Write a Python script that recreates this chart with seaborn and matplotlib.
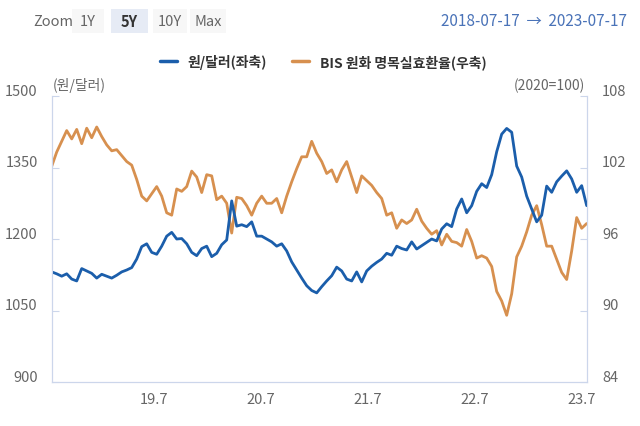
import pandas as pd
import numpy as np
import seaborn as sns
import matplotlib.pyplot as plt
from matplotlib.patches import Rectangle
from matplotlib.lines import Line2D
from matplotlib.transforms import ScaledTranslation

# 원/달러 (left axis), roughly every 17 days from 2018-07-17 to 2023-07-17
krw_usd = [1131, 1127, 1122, 1127, 1116, 1112, 1138, 1133, 1128, 1118,
           1126, 1122, 1118, 1124, 1131, 1135, 1140, 1158, 1184, 1190,
           1172, 1168, 1185, 1206, 1214, 1200, 1201, 1190, 1172, 1165,
           1180, 1185, 1163, 1170, 1188, 1198, 1280, 1227, 1230, 1226,
           1236, 1206, 1206, 1200, 1194, 1185, 1190, 1175, 1152, 1135,
           1118, 1102, 1092, 1087, 1100, 1112, 1123, 1141, 1133, 1116,
           1112, 1131, 1110, 1133, 1143, 1151, 1158, 1170, 1166, 1185,
           1180, 1177, 1194, 1179, 1186, 1193, 1200, 1196, 1221, 1232,
           1226, 1263, 1284, 1255, 1270, 1300, 1316, 1308, 1335, 1383,
           1420, 1432, 1424, 1353, 1330, 1290, 1263, 1236, 1250, 1311,
           1298, 1320, 1332, 1343, 1326, 1298, 1312, 1270]

# BIS 원화 명목실효환율 (right axis, 2020=100)
bis_neer = [102.1, 103.3, 104.2, 105.1, 104.4, 105.2, 104.0, 105.3, 104.5, 105.4,
            104.6, 103.9, 103.4, 103.5, 103.0, 102.5, 102.2, 101.0, 99.6, 99.2,
            99.8, 100.4, 99.6, 98.2, 98.0, 100.2, 100.0, 100.4, 101.7, 101.2,
            99.9, 101.4, 101.3, 99.3, 99.6, 99.0, 96.5, 99.5, 99.4, 98.8,
            98.0, 99.0, 99.6, 99.0, 99.0, 99.4, 98.2, 99.6, 100.8, 101.9,
            102.9, 102.9, 104.2, 103.2, 102.5, 101.5, 101.8, 100.8, 101.8, 102.5,
            101.2, 99.9, 101.3, 100.9, 100.5, 99.9, 99.4, 98.0, 98.2, 96.9,
            97.6, 97.3, 97.6, 98.5, 97.5, 96.9, 96.4, 96.7, 95.5, 96.4,
            95.8, 95.7, 95.4, 96.8, 95.8, 94.4, 94.6, 94.4, 93.7, 91.6,
            90.8, 89.6, 91.4, 94.5, 95.4, 96.6, 98.0, 98.8, 97.2, 95.4,
            95.4, 94.3, 93.2, 92.6, 95.0, 97.8, 96.9, 97.3]

dates = pd.date_range('2018-07-17', '2023-07-17', periods=len(krw_usd))
df = pd.DataFrame({'date': dates, 'krw': krw_usd, 'neer': bis_neer})

left_ticks = [900, 1050, 1200, 1350, 1500]
right_ticks = [84, 90, 96, 102, 108]
x_ticks = pd.to_datetime(['2019-07-01', '2020-07-01', '2021-07-01', '2022-07-01', '2023-07-01'])
x_labels = ['19.7', '20.7', '21.7', '22.7', '23.7']

sns.set_style('white')
plt.rcParams['font.family'] = ['Noto Sans CJK KR', 'DejaVu Sans']

blue = '#1b5eab'
orange = '#d7904f'
axis_c = '#ccd6eb'
txt_c = '#666666'

fig = plt.figure(figsize=(6.4, 4.27), dpi=100)
ax = fig.add_axes([0.0808, 0.103, 0.8359, 0.6698])
ax2 = ax.twinx()

sns.lineplot(data=df, x='date', y='krw', ax=ax, color=blue, linewidth=2)
sns.lineplot(data=df, x='date', y='neer', ax=ax2, color=orange, linewidth=2)
ax.set_zorder(ax2.get_zorder() + 1)
ax.patch.set_visible(False)

ax.set_xlim(pd.Timestamp('2018-07-17'), pd.Timestamp('2023-07-17'))
ax.set_ylim(900, 1500)
ax2.set_ylim(84, 108)
ax.set_yticks(left_ticks)
ax2.set_yticks(right_ticks)
ax.set_xticks(x_ticks)
ax.set_xticklabels(x_labels)
for a in (ax, ax2):
    a.set_xlabel('')
    a.set_ylabel('')
    for s in a.spines.values():
        s.set_color(axis_c)
    a.spines['top'].set_visible(False)
    a.tick_params(direction='in', length=5, color=axis_c, labelcolor=txt_c, labelsize=10.5)
ax.tick_params(axis='y', pad=10)
ax2.tick_params(axis='y', pad=11)
ax.tick_params(axis='x', pad=7)

off = ScaledTranslation(0, 5 / 72, fig.dpi_scale_trans)
for lab in ax.get_yticklabels() + ax2.get_yticklabels():
    lab.set_transform(lab.get_transform() + off)

fig.text(0.083, 0.782, '(원/달러)', color=txt_c, fontsize=10, ha='left', va='bottom')
fig.text(0.914, 0.782, '(2020=100)', color=txt_c, fontsize=10, ha='right', va='bottom')

# legend
handles = [Line2D([], [], color=blue, linewidth=2.5), Line2D([], [], color=orange, linewidth=2.5)]
leg = fig.legend(handles, ['원/달러(좌축)', 'BIS 원화 명목실효환율(우축)'], loc='center',
                 bbox_to_anchor=(0.505, 0.853), ncol=2, frameon=False, handlelength=1.2,
                 columnspacing=1.8, prop={'weight': 'bold', 'size': 10})
for t in leg.get_texts():
    t.set_color('#333333')

# header: zoom buttons and range
fig.text(33 / 640, 1 - 22 / 427, 'Zoom', color=txt_c, fontsize=10.5, va='center')
buttons = [('1Y', 72, 104, False), ('5Y', 111, 148, True), ('10Y', 153, 187, False), ('Max', 190, 226, False)]
for lab, x0, x1, sel in buttons:
    fig.add_artist(Rectangle((x0 / 640, 1 - 34 / 427), (x1 - x0) / 640, 24 / 427,
                             transform=fig.transFigure, facecolor='#e6ebf5' if sel else '#f7f7f7',
                             edgecolor='none'))
    fig.text((x0 + x1) / 2 / 640, 1 - 22 / 427, lab, color='#333333' if sel else txt_c,
             fontsize=10.5, ha='center', va='center', weight='bold' if sel else 'normal')
fig.text(627 / 640, 1 - 22 / 427, '2018-07-17  →  2023-07-17', color='#4a73b8',
         fontsize=11, ha='right', va='center')

fig.savefig('out.png', dpi=100)
